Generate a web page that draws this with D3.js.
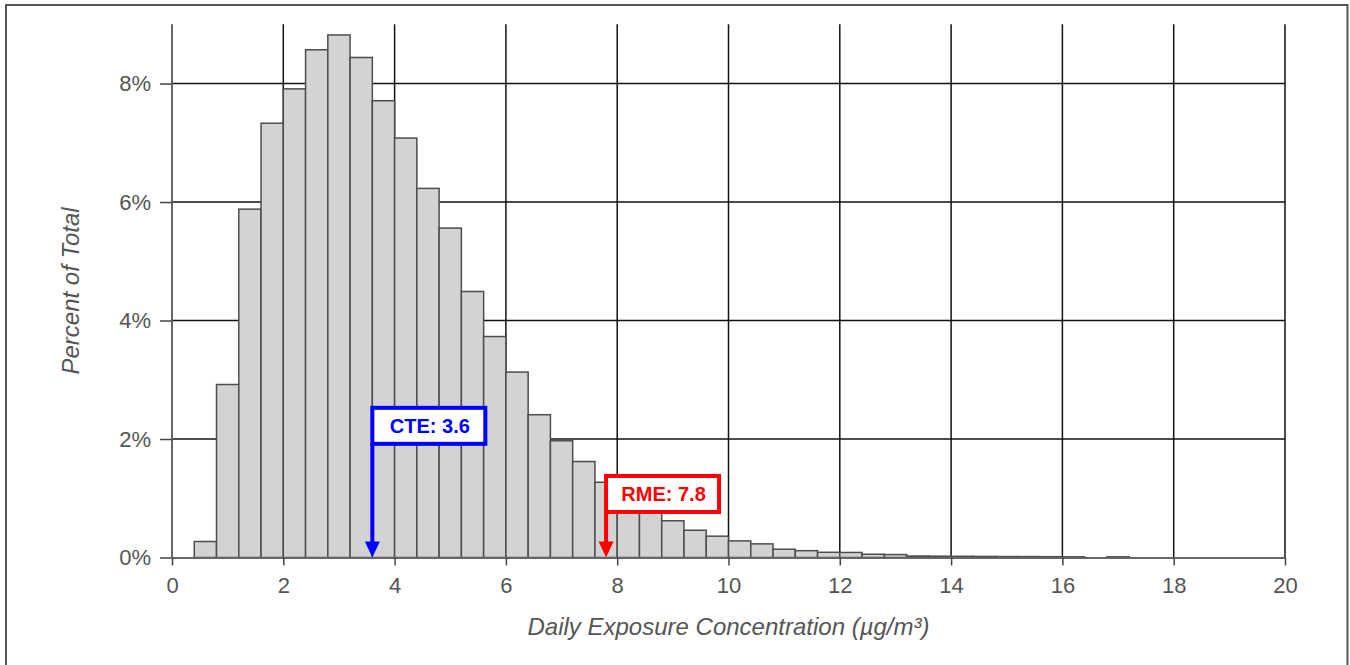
<!DOCTYPE html>
<html>
<head>
<meta charset="utf-8">
<script src="https://cdn.jsdelivr.net/npm/d3@7/dist/d3.min.js"></script>
<style>
  html, body { margin: 0; padding: 0; background: #fff; }
  svg { display: block; font-family: "Liberation Sans", Arial, sans-serif; }
</style>
</head>
<body>
<svg id="chart" width="1350" height="665"></svg>
<script>
// ---- data ----
const binStarts = [0.4, 0.8, 1.2, 1.6, 2.0, 2.4, 2.8, 3.2, 3.6, 4.0, 4.4, 4.8, 5.2, 5.6, 6.0, 6.4, 6.8, 7.2, 7.6, 8.0,
                   8.4, 8.8, 9.2, 9.6, 10.0, 10.4, 10.8, 11.2, 11.6, 12.0, 12.4, 12.8, 13.2, 13.6, 14.0, 14.4, 14.8, 15.2, 15.6, 16.0, 16.8];
const binWidth = 0.4;
const percents = [0.27, 2.92, 5.88, 7.33, 7.91, 8.57, 8.82, 8.44, 7.71, 7.08, 6.23, 5.56, 4.49, 3.73, 3.13, 2.41, 1.97, 1.62, 1.27, 1.00,
                  0.80, 0.62, 0.46, 0.36, 0.28, 0.23, 0.14, 0.115, 0.088, 0.085, 0.055, 0.05, 0.025, 0.022, 0.02, 0.018, 0.016, 0.015, 0.013, 0.012, 0.012];
const xTicks = [0, 2, 4, 6, 8, 10, 12, 14, 16, 18, 20];
const yTicks = [0, 2, 4, 6, 8];
const markerLabels = ["CTE: 3.6", "RME: 7.8"];
const markerValues = [3.6, 7.8];
const markerBoxTop = [2.56, 1.41];   // percent level of label box top
const markerColors = ["#0000ff", "#ff0000"];
const xTitle = "Daily Exposure Concentration (µg/m³)";
const yTitle = "Percent of Total";

// ---- layout ----
const svg = d3.select("#chart");
const pLeft = 172, pRight = 1285, pTop = 24.3, pBottom = 557.5;
const x = d3.scaleLinear().domain([0, 20]).range([pLeft, pRight]);
const y = d3.scaleLinear().domain([0, 9]).range([pBottom, pTop]);

// frame
svg.append("rect").attr("x", 6).attr("y", 5).attr("width", 1341.5).attr("height", 700)
  .attr("fill", "none").attr("stroke", "#555").attr("stroke-width", 2);

// grid
const grid = svg.append("g");
grid.selectAll("line.v").data(xTicks.filter(d => d > 0)).join("line").attr("class", "v")
  .attr("x1", d => x(d)).attr("x2", d => x(d)).attr("y1", pTop).attr("y2", pBottom)
  .attr("stroke", "#111").attr("stroke-width", 1.5);
grid.selectAll("line.h").data(yTicks.filter(d => d > 0)).join("line").attr("class", "h")
  .attr("x1", pLeft).attr("x2", pRight).attr("y1", d => y(d)).attr("y2", d => y(d))
  .attr("stroke", "#111").attr("stroke-width", 1.5);

// bars
svg.append("g").selectAll("rect").data(binStarts.map((s, i) => ({ s, v: percents[i] }))).join("rect")
  .attr("x", d => x(d.s)).attr("width", d => x(d.s + binWidth) - x(d.s))
  .attr("y", d => y(d.v)).attr("height", d => y(0) - y(d.v))
  .attr("fill", "#d3d3d3").attr("stroke", "#4d4d4d").attr("stroke-width", 1.5);

// axes
const xAxis = svg.append("g").attr("transform", `translate(0,${pBottom})`)
  .call(d3.axisBottom(x).tickValues(xTicks).tickSize(8).tickSizeOuter(0).tickPadding(12));
const yAxis = svg.append("g").attr("transform", `translate(${pLeft},0)`)
  .call(d3.axisLeft(y).tickValues(yTicks).tickSize(12).tickSizeOuter(0).tickPadding(9).tickFormat(d => d + "%"));
[xAxis, yAxis].forEach(g => {
  g.select(".domain").attr("stroke", "#666").attr("stroke-width", 2);
  g.selectAll(".tick line").attr("stroke", "#444").attr("stroke-width", 1.5);
  g.selectAll(".tick text").attr("fill", "#555").attr("font-size", 22)
    .attr("font-family", "'Liberation Sans', Arial, sans-serif");
});
yAxis.select(".domain").attr("d", `M0,${pTop}V${pBottom}`);

// titles
svg.append("text").attr("x", (pLeft + pRight) / 2).attr("y", 635).attr("text-anchor", "middle")
  .attr("font-size", 24).attr("font-style", "italic").attr("fill", "#555").text(xTitle);
svg.append("text").attr("transform", `translate(79,${(pTop + pBottom) / 2}) rotate(-90)`)
  .attr("text-anchor", "middle").attr("font-size", 24).attr("font-style", "italic").attr("fill", "#555").text(yTitle);

// markers
const boxW = 113, boxH = 36;
markerValues.forEach((v, i) => {
  const g = svg.append("g");
  const mx = x(v);
  const by = y(markerBoxTop[i]) + 2;
  const col = markerColors[i];
  g.append("line").attr("x1", mx).attr("x2", mx).attr("y1", by + boxH).attr("y2", y(0) - 14)
    .attr("stroke", col).attr("stroke-width", 4);
  g.append("path").attr("d", `M${mx - 7.5},${y(0) - 16}L${mx + 7.5},${y(0) - 16}L${mx},${y(0)}Z`).attr("fill", col);
  g.append("rect").attr("x", mx).attr("y", by).attr("width", boxW).attr("height", boxH)
    .attr("fill", "#fff").attr("stroke", col).attr("stroke-width", 4);
  g.append("text").attr("x", mx + boxW / 2 + 1).attr("y", by + boxH / 2 + 7).attr("text-anchor", "middle")
    .attr("font-size", 20).attr("font-weight", "bold").attr("fill", col).text(markerLabels[i]);
});
</script>
</body>
</html>
